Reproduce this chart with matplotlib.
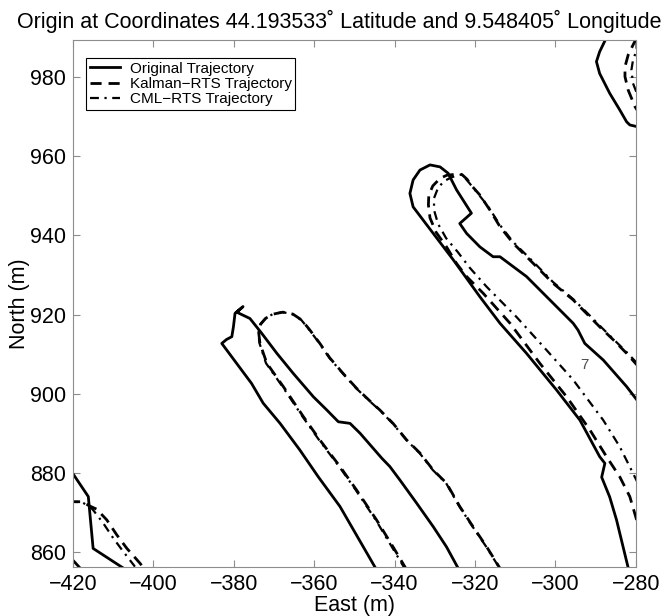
import matplotlib
matplotlib.use("Agg")
import matplotlib.pyplot as plt

plt.rcParams['font.family'] = ['Liberation Sans', 'DejaVu Sans']

# original trajectory, four pieces (east, north in m)
orig_a_e = [-344.5, -353.6, -359.0, -363.6, -368.5, -372.7, -375.6, -383.0, -381.8, -380.5, -380.1, -379.7,
            -377.7, -379.3, -376.0, -373.1, -369.3, -365.2, -360.2, -356.9, -354.0, -351.1, -348.6, -343.2,
            -341.2, -338.7, -334.5, -330.4, -327.1, -324.2]
orig_a_n = [855.5, 871.5, 879.0, 885.8, 892.5, 897.6, 902.6, 912.7, 913.7, 914.4, 916.9, 920.3,
            922.0, 920.6, 919.0, 915.3, 910.2, 905.1, 899.2, 895.9, 892.9, 892.5, 890.0, 883.7,
            881.6, 878.2, 872.3, 866.4, 861.3, 855.9]
orig_b_e = [-281.9, -284.8, -286.5, -288.5, -287.7, -289.0, -293.9, -299.7, -307.2, -313.8, -318.8, -325.4,
            -330.4, -335.4, -336.2, -335.4, -333.7, -331.2, -328.7, -326.7, -324.6, -320.9, -323.8, -322.1,
            -318.8, -315.5, -313.8, -307.2, -301.4, -295.6, -294.4, -292.7, -288.1, -282.3, -279.5]
orig_b_n = [856.0, 868.1, 873.9, 878.9, 882.4, 884.1, 893.3, 900.9, 910.2, 917.8, 924.5, 933.8,
            940.5, 947.2, 950.6, 954.0, 956.5, 957.8, 957.3, 955.7, 951.5, 945.6, 943.0, 940.5,
            937.1, 934.6, 934.6, 929.6, 923.7, 917.8, 916.1, 912.7, 908.5, 901.8, 898.1]
orig_c_e = [-287.0, -289.0, -289.8, -289.0, -286.5, -284.0, -282.3, -281.5, -279.4]
orig_c_n = [990.6, 986.4, 983.9, 980.9, 975.9, 971.7, 968.7, 967.9, 967.4]
orig_d_e = [-420.5, -416.2, -415.0, -407.9, -406.0]
orig_d_n = [880.5, 874.0, 860.9, 856.2, 855.0]
orig_e_e = [-421.0, -417.4]
orig_e_n = [859.0, 855.0]

# Kalman-RTS smoothed trajectory
kal_a_e = [-337.0, -340.4, -344.5, -349.5, -353.6, -358.6, -362.7, -367.7, -371.8, -373.5, -373.8, -373.3,
           -372.0, -370.2, -367.8, -365.3, -363.1, -361.1, -358.6, -356.1, -352.8, -349.5, -346.1, -343.7,
           -340.4, -337.0, -333.7, -330.4, -327.1, -323.8, -320.5, -317.1, -313.8]
kal_a_n = [855.5, 861.3, 868.1, 875.7, 881.6, 888.3, 894.2, 901.8, 907.7, 912.7, 915.3, 917.6,
           919.1, 920.1, 920.6, 920.1, 918.6, 916.1, 912.7, 909.0, 905.1, 901.4, 898.1, 895.9,
           892.5, 888.3, 885.0, 880.7, 877.4, 871.5, 866.4, 861.3, 855.9]
kal_b_e = [-279.8, -281.5, -284.0, -287.3, -291.4, -297.2, -303.9, -311.3, -318.0, -322.1, -324.6, -327.1,
           -329.7, -331.2, -331.6, -331.5, -330.5, -328.7, -327.0, -325.0, -323.3, -322.0, -320.8, -318.8,
           -316.3, -313.8, -310.5, -305.5, -300.6, -295.6, -292.3, -289.0, -285.6, -282.3, -279.5]
kal_b_n = [868.1, 874.0, 879.0, 884.1, 890.8, 899.2, 907.7, 917.8, 925.4, 929.6, 932.9, 937.1,
           940.8, 944.4, 947.7, 950.2, 952.5, 954.4, 955.2, 955.4, 955.4, 954.2, 952.5, 950.2,
           946.4, 942.2, 938.0, 932.9, 927.9, 923.7, 920.3, 916.9, 913.6, 910.2, 907.0]
kal_c_e = [-279.8, -280.7, -281.9, -282.7, -282.7, -281.9, -280.2, -279.4]
kal_c_n = [989.9, 988.1, 985.6, 982.6, 980.1, 976.7, 972.5, 971.2]
kal_d_e = [-421.0, -417.8, -415.8, -414.1, -411.6, -409.1, -406.6, -403.3, -402.1]
kal_d_n = [872.7, 872.7, 871.6, 870.8, 868.1, 864.3, 860.9, 857.1, 855.5]

# CML-RTS smoothed trajectory
cml_a_e = [-337.3, -340.7, -344.7, -349.7, -353.8, -358.8, -362.9, -367.9, -372.0, -373.6, -373.9, -373.4,
           -372.1, -370.3, -367.9, -365.4, -363.2, -361.2, -358.7, -356.2, -352.9, -349.6, -346.2, -343.8,
           -340.5, -337.1, -333.8, -330.5, -327.2, -323.9, -320.6, -317.2, -313.9]
cml_a_n = [855.5, 861.3, 868.1, 875.7, 881.6, 888.3, 894.2, 901.8, 907.7, 912.7, 915.3, 917.6,
           919.1, 920.1, 920.6, 920.1, 918.6, 916.1, 912.7, 909.0, 905.1, 901.4, 898.1, 895.9,
           892.5, 888.3, 885.0, 880.7, 877.4, 871.5, 866.4, 861.3, 855.9]
cml_b_e = [-279.5, -280.7, -284.0, -288.1, -295.6, -302.2, -309.7, -317.1, -321.3, -324.3, -327.2, -329.2,
           -330.2, -330.2, -329.2, -327.7, -325.8, -323.3, -321.8, -319.8, -316.8, -313.8, -310.5, -305.5,
           -300.6, -295.6, -292.3, -289.0, -285.6, -282.3, -279.5]
cml_b_n = [877.4, 879.9, 886.6, 893.3, 903.5, 911.0, 919.4, 927.0, 931.8, 935.8, 939.3, 942.9,
           946.4, 949.4, 952.0, 953.7, 954.7, 955.4, 953.7, 951.2, 947.4, 942.6, 938.3, 933.3,
           928.2, 923.9, 920.6, 917.2, 913.8, 910.5, 907.5]
cml_c_e = [-279.8, -279.8, -280.7, -281.1, -280.7, -279.4]
cml_c_n = [989.4, 986.8, 984.3, 981.8, 978.4, 975.0]
cml_d_e = [-421.0, -417.8, -415.8, -415.0, -412.5, -410.0, -407.5, -404.6]
cml_d_n = [872.7, 872.6, 871.4, 870.6, 867.3, 863.5, 860.1, 856.3]

labels = ['Original Trajectory', 'Kalman\u2212RTS Trajectory', 'CML\u2212RTS Trajectory']
title = 'Origin at Coordinates 44.193533\u02da Latitude and 9.548405\u02da Longitude'

fig = plt.figure(figsize=(6.7, 6.16), dpi=100)
ax = fig.add_axes([0.109, 0.0795, 0.840, 0.8555])

solid = dict(color='black', lw=2.0, ls='-')
dashed = dict(color='black', lw=2.0, ls=(0, (4, 2.5)))
dashdot = dict(color='black', lw=1.6, ls=(0, (4, 2.5, 1, 2.5)))

ax.plot(orig_a_e, orig_a_n, label=labels[0], **solid)
ax.plot(kal_a_e, kal_a_n, label=labels[1], **dashed)
ax.plot(cml_a_e, cml_a_n, label=labels[2], **dashdot)
for e, n in [(orig_b_e, orig_b_n), (orig_c_e, orig_c_n), (orig_d_e, orig_d_n), (orig_e_e, orig_e_n)]:
    ax.plot(e, n, **solid)
for e, n in [(kal_b_e, kal_b_n), (kal_c_e, kal_c_n), (kal_d_e, kal_d_n)]:
    ax.plot(e, n, **dashed)
for e, n in [(cml_b_e, cml_b_n), (cml_c_e, cml_c_n), (cml_d_e, cml_d_n)]:
    ax.plot(e, n, **dashdot)

ax.text(-292.7, 907.2, '7', fontsize=11, color='0.3', ha='center', va='center')

ax.set_xlim(-420, -280)
ax.set_ylim(856.2, 989.35)
ax.set_xticks(range(-420, -279, 20))
ax.set_yticks(range(860, 981, 20))
ax.tick_params(direction='in', top=True, right=True, length=5, width=0.8,
               color='0.55', labelsize=15.5, pad=5)
for s in ax.spines.values():
    s.set_color('0.55')
    s.set_linewidth(0.8)

ax.set_xlabel('East (m)', fontsize=15.5, labelpad=0)
ax.set_ylabel('North (m)', fontsize=15.5, labelpad=0)
fig.text(0.507, 0.966, title, fontsize=15.5, ha='center', va='center')

leg = ax.legend(loc='upper left', bbox_to_anchor=(0.023, 0.966), fontsize=11,
                frameon=True, fancybox=False, framealpha=1, edgecolor='black',
                handlelength=2.0, labelspacing=0.08, borderpad=0.25, handletextpad=0.6,
                borderaxespad=0)
leg.get_frame().set_linewidth(0.8)

fig.savefig('out.png', dpi=100)
